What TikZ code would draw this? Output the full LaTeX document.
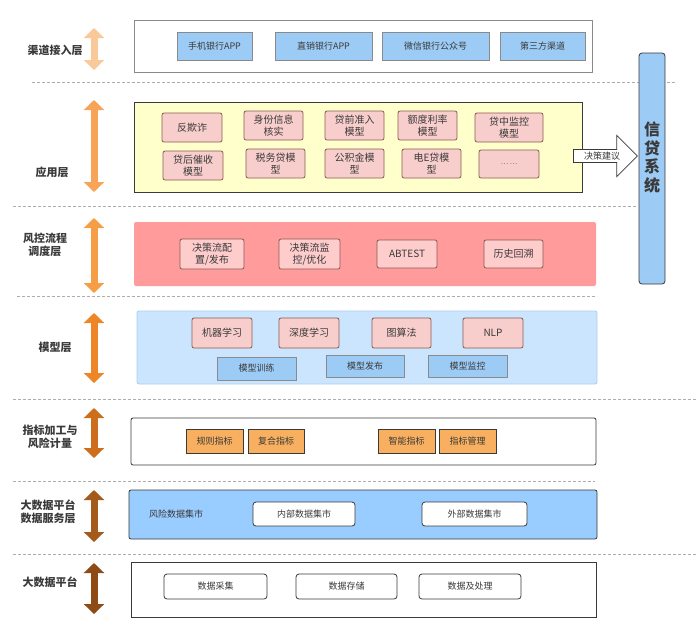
\documentclass[tikz,border=0pt]{standalone}
\usepackage{fontspec}
\setmainfont{Noto Sans CJK SC}
\usetikzlibrary{shapes.arrows, arrows.meta, positioning}
\definecolor{mblue}{HTML}{9CCBF5}
\definecolor{myellow}{HTML}{FFFFCC}
\definecolor{mpink}{HTML}{F8CECC}
\definecolor{mred}{HTML}{FF9B9B}
\definecolor{mrose}{HTML}{FFCCCC}
\definecolor{msky}{HTML}{CCE5FF}
\definecolor{mskyline}{HTML}{A9CFF0}
\definecolor{morange}{HTML}{F8B060}
\definecolor{mdata}{HTML}{99CCFF}
\definecolor{mdark}{HTML}{3A3A3A}
\definecolor{mgray}{HTML}{8A8A8A}
\definecolor{mbrown}{HTML}{8C5A50}
\tikzstyle{layer} = [rectangle, inner sep=0pt, line width=0.8pt]
\tikzstyle{unit} = [rectangle, inner sep=0pt, line width=0.8pt, align=center, text=mdark, font=\fontsize{10}{12}\selectfont]
\tikzstyle{tag} = [rectangle, inner sep=0pt, line width=0.8pt, align=center, text=mdark, font=\fontsize{9}{11}\selectfont]
\tikzstyle{side} = [align=center, text=mdark, font=\bfseries\fontsize{11}{13}\selectfont]
\tikzstyle{updown} = [line width=7pt, {Triangle[width=20pt,length=10pt]}-{Triangle[width=20pt,length=10pt]}]
\tikzstyle{divider} = [mgray!70, thin, dash pattern=on 3pt off 2pt]

\begin{document}
\begin{tikzpicture}[x=1pt, y=-1pt]
  \useasboundingbox (0,0) rectangle (700,638);
  % dashed separators
  \draw [divider] (32,82) -- (677,82);
  \draw [divider] (13,206) -- (638,206);
  \draw [divider] (17,296) -- (597,296);
  \draw [divider] (13,399) -- (698,399);
  \draw [divider] (13,481) -- (595,481);
  \draw [divider] (13,554) -- (698,554);
  % layer names
  \node (nch) [side] at (55,50) {渠道接入层};
  \node (napp) [side] at (52,172) {应用层};
  \node (nrisk) [side] at (45,245) {风控流程\\调度层};
  \node (nmdl) [side] at (55,347) {模型层};
  \node (nind) [side] at (50,437) {指标加工与\\风险计量};
  \node (nds) [side] at (48,512) {大数据平台\\数据服务层};
  \node (nbd) [side] at (50,582) {大数据平台};
  % up and down arrows
  \draw [updown, draw={rgb,255:red,249;green,201;blue,154}] (94,28) -- (94,70);
  \draw [updown, draw={rgb,255:red,247;green,164;blue,88}] (94,100) -- (94,192);
  \draw [updown, draw={rgb,255:red,245;green,158;blue,69}] (94,218) -- (94,293);
  \draw [updown, draw={rgb,255:red,238;green,133;blue,38}] (94,313) -- (94,383);
  \draw [updown, draw={rgb,255:red,204;green,110;blue,28}] (94,408) -- (94,458);
  \draw [updown, draw={rgb,255:red,163;green,90;blue,26}] (94,490) -- (94,542);
  \draw [updown, draw={rgb,255:red,142;green,75;blue,22}] (94,563) -- (94,614);
  % channel layer
  \node (ch) [layer, draw=mgray, fill=white, minimum width=458pt, minimum height=52pt] at (363,46) {};
  \node (ch1) [tag, draw=mgray, fill=mblue, minimum width=75pt, minimum height=28pt] at (214.5,46) {手机银行APP};
  \node (ch2) [tag, draw=mgray, fill=mblue, minimum width=97pt, minimum height=28pt] at (323.5,46) {直销银行APP};
  \node (ch3) [tag, draw=mgray, fill=mblue, minimum width=107pt, minimum height=28pt] at (435.5,46) {微信银行公众号};
  \node (ch4) [tag, draw=mgray, fill=mblue, minimum width=85pt, minimum height=28pt] at (542.5,46) {第三方渠道};
  % application layer
  \node (app) [layer, draw=mdark, fill=myellow, minimum width=448pt, minimum height=90pt] at (358,147) {};
  \node (a1) [unit, draw=mbrown, fill=mpink, rounded corners=2pt, minimum width=60pt, minimum height=29pt] at (192,127.5) {反欺诈};
  \node (a2) [unit, draw=mbrown, fill=mpink, rounded corners=2pt, minimum width=59pt, minimum height=29pt] at (273.5,125.5) {身份信息\\核实};
  \node (a3) [unit, draw=mbrown, fill=mpink, rounded corners=2pt, minimum width=59pt, minimum height=29pt] at (354.5,125.5) {贷前准入\\模型};
  \node (a4) [unit, draw=mbrown, fill=mpink, rounded corners=2pt, minimum width=59pt, minimum height=29pt] at (427.5,125.5) {额度利率\\模型};
  \node (a5) [unit, draw=mbrown, fill=mpink, rounded corners=2pt, minimum width=68pt, minimum height=29pt] at (509,127.5) {贷中监控\\模型};
  \node (b1) [unit, draw=mbrown, fill=mpink, rounded corners=2pt, minimum width=60pt, minimum height=29pt] at (193,165.5) {贷后催收\\模型};
  \node (b2) [unit, draw=mbrown, fill=mpink, rounded corners=2pt, minimum width=59pt, minimum height=29pt] at (275.5,163.5) {税务贷模\\型};
  \node (b3) [unit, draw=mbrown, fill=mpink, rounded corners=2pt, minimum width=59pt, minimum height=29pt] at (354.5,163.5) {公积金模\\型};
  \node (b4) [unit, draw=mbrown, fill=mpink, rounded corners=2pt, minimum width=59pt, minimum height=29pt] at (431.5,163.5) {电E贷模\\型};
  \node (b5) [unit, draw=mbrown, fill=mpink, rounded corners=2pt, minimum width=60pt, minimum height=28pt, font=\fontsize{7}{8}\selectfont] at (509,164) {\dots\ \dots};
  % credit system
  \node (sys) [layer, draw=mdark, fill=mblue, rounded corners=3pt, minimum width=26pt, minimum height=231pt] at (652,168.5) {};
  \node (systxt) [align=center, text=mdark, font=\bfseries\fontsize{16}{18.5}\selectfont] at (sys.center) [yshift=11pt] {信\\贷\\系\\统};
  \node (advice) [single arrow, draw=mdark, line width=0.8pt, fill=white, anchor=tail, minimum height=64pt, single arrow head extend=14pt, inner sep=2pt, text=mdark, font=\fontsize{9}{9}\selectfont] at (573,156) {决策建议};
  % risk flow layer
  \node (risk) [layer, fill=mred, rounded corners=2pt, minimum width=462pt, minimum height=64pt] at (365,254) {};
  \node (r1) [unit, draw=mbrown, fill=mrose, rounded corners=2pt, minimum width=64pt, minimum height=30pt] at (212,254) {决策流配\\置/发布};
  \node (r2) [unit, draw=mbrown, fill=mrose, rounded corners=2pt, minimum width=61pt, minimum height=30pt] at (309.5,254) {决策流监\\控/优化};
  \node (r3) [unit, draw=mbrown, fill=mrose, rounded corners=2pt, minimum width=60pt, minimum height=28pt] at (407,254) {ABTEST};
  \node (r4) [unit, draw=mbrown, fill=mrose, rounded corners=2pt, minimum width=59pt, minimum height=28pt] at (513.5,254) {历史回溯};
  % model layer
  \node (mdl) [layer, draw=mskyline, fill=msky, rounded corners=2pt, minimum width=460pt, minimum height=73pt] at (367,347.5) {};
  \node (m1) [unit, draw=mbrown, fill=mpink, rounded corners=2pt, minimum width=60pt, minimum height=30pt] at (222,333) {机器学习};
  \node (m2) [unit, draw=mbrown, fill=mpink, rounded corners=2pt, minimum width=60pt, minimum height=30pt] at (309,333) {深度学习};
  \node (m3) [unit, draw=mbrown, fill=mpink, rounded corners=2pt, minimum width=59pt, minimum height=30pt] at (401.5,333) {图算法};
  \node (m4) [unit, draw=mbrown, fill=mpink, rounded corners=2pt, minimum width=60pt, minimum height=30pt] at (493,333) {NLP};
  \node (t1) [tag, draw=mgray, fill=mblue, minimum width=79pt, minimum height=23pt] at (256.5,368.5) {模型训练};
  \node (t2) [tag, draw=mgray, fill=mblue, minimum width=78pt, minimum height=22pt] at (365,366) {模型发布};
  \node (t3) [tag, draw=mgray, fill=mblue, minimum width=79pt, minimum height=22pt] at (467.5,366) {模型监控};
  % indicator layer
  \node (ind) [layer, draw=mdark, fill=white, rounded corners=2pt, minimum width=465pt, minimum height=47pt] at (363.5,441.5) {};
  \node (i1) [tag, draw=mdark, fill=morange, minimum width=57pt, minimum height=24pt] at (214.5,441) {规则指标};
  \node (i2) [tag, draw=mdark, fill=morange, minimum width=56pt, minimum height=24pt] at (276,441) {复合指标};
  \node (i3) [tag, draw=mdark, fill=morange, minimum width=57pt, minimum height=24pt] at (406.5,441) {智能指标};
  \node (i4) [tag, draw=mdark, fill=morange, minimum width=57pt, minimum height=24pt] at (467.5,441) {指标管理};
  % data service layer
  \node (ds) [layer, draw=mdark, fill=mdata, rounded corners=2pt, minimum width=468pt, minimum height=49pt] at (363,514.5) {};
  \node (dsname) [tag] at (176,514) {风险数据集市};
  \node (d1) [tag, draw=mdark, fill=white, rounded corners=3pt, minimum width=102pt, minimum height=24pt] at (304,514) {内部数据集市};
  \node (d2) [tag, draw=mdark, fill=white, rounded corners=3pt, minimum width=105pt, minimum height=24pt] at (474.5,514) {外部数据集市};
  % big data layer
  \node (bd) [layer, draw=mdark, fill=white, minimum width=465pt, minimum height=55pt] at (363.5,589.5) {};
  \node (e1) [tag, draw=mdark, fill=white, rounded corners=3pt, minimum width=103pt, minimum height=25pt] at (215.5,586.5) {数据采集};
  \node (e2) [tag, draw=mdark, fill=white, rounded corners=3pt, minimum width=101pt, minimum height=25pt] at (346.5,586.5) {数据存储};
  \node (e3) [tag, draw=mdark, fill=white, rounded corners=3pt, minimum width=102pt, minimum height=25pt] at (470,586.5) {数据及处理};
\end{tikzpicture}
\end{document}
